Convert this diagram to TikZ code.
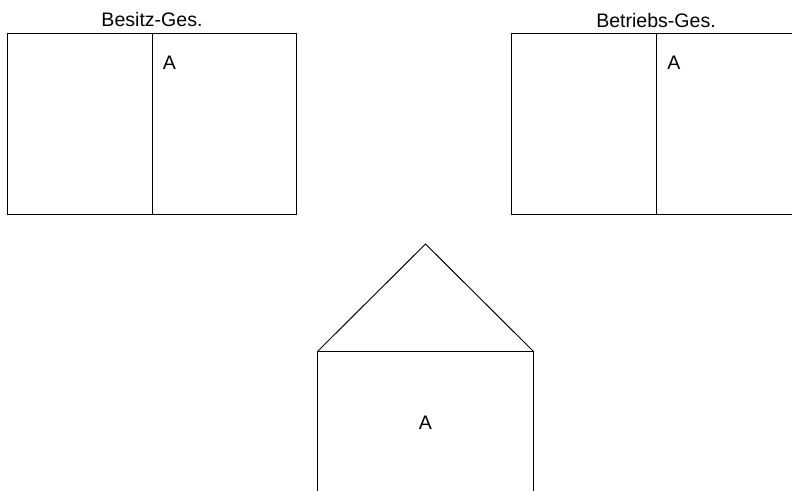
\documentclass[tikz,border=0pt]{standalone}
\usepackage{fontspec}
\setmainfont{Liberation Sans}
\usepackage{tikz}
\usetikzlibrary{positioning}

\begin{document}
\begin{tikzpicture}[
  x=0.025cm, y=-0.025cm,
  line width=0.7pt,
  font=\fontsize{13.9}{16}\selectfont,
  company/.style={
    draw, inner sep=0pt,
    minimum width=7.2cm,
    minimum height=4.5cm},
  body/.style={
    draw, inner sep=0pt,
    minimum width=5.375cm,
    minimum height=4.2cm},
  title/.style={anchor=base, inner sep=0pt},
  lbl/.style={anchor=base, inner sep=0pt}
]
\useasboundingbox (0,0) rectangle (792,491);
\clip (0,0) rectangle (792,491);

% Besitz-Gesellschaft
\node[company] (bes) at (152,124) {};
\draw (bes.north) -- (bes.south);
\node[title] (besT) at (152,27) {Besitz-Ges.};
\node[lbl] (besA) at (169.5,70) {A};

% Betriebs-Gesellschaft
\node[company] (bet) at (656,124) {};
\draw (bet.north) -- (bet.south);
\node[title] (betT) at (656,28) {Betriebs-Ges.};
\node[lbl] (betA) at (674,70) {A};

% house
\node[body] (house) at (425.5,436) {};
\coordinate (roof) at (425.5,244);
\draw (house.north west) -- (roof) -- (house.north east);
\node[lbl] (houseA) at (425.5,430) {A};
\end{tikzpicture}
\end{document}
